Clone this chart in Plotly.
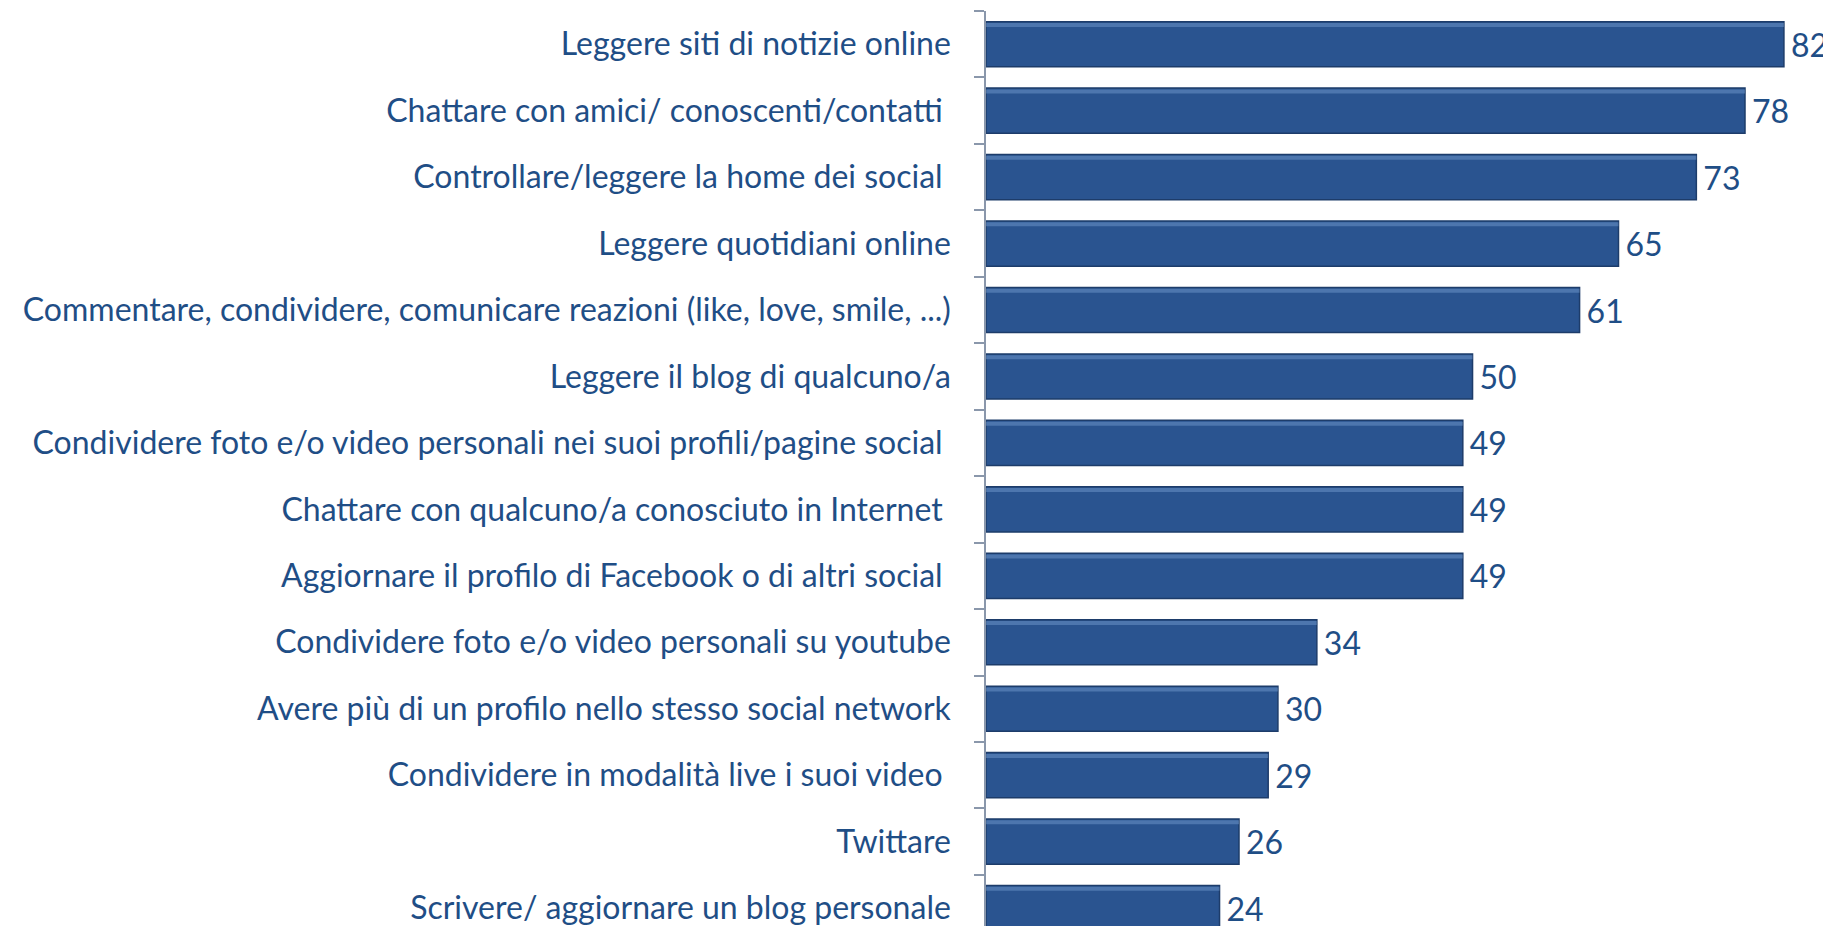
import plotly.graph_objects as go

categories = [
    "Leggere siti di notizie online",
    "Chattare con amici/ conoscenti/contatti\u00a0",
    "Controllare/leggere la home dei social\u00a0",
    "Leggere quotidiani online",
    "Commentare, condividere, comunicare reazioni (like, love, smile, ...)",
    "Leggere il blog di qualcuno/a",
    "Condividere foto e/o video personali nei suoi profili/pagine social\u00a0",
    "Chattare con qualcuno/a conosciuto in Internet\u00a0",
    "Aggiornare il profilo di Facebook o di altri social\u00a0",
    "Condividere foto e/o video personali su youtube",
    "Avere più di un profilo nello stesso social network",
    "Condividere in modalità live i suoi video\u00a0",
    "Twittare",
    "Scrivere/ aggiornare un blog personale",
]
values = [82, 78, 73, 65, 61, 50, 49, 49, 49, 34, 30, 29, 26, 24]

text_color = "#1f4e86"
font_family = "Lato, 'Open Sans', sans-serif"
fsize = 32

fig = go.Figure()
fig.add_trace(
    go.Bar(
        x=values,
        y=categories,
        orientation="h",
        marker=dict(color="#2a5490", line=dict(color="#1d3c6a", width=1.5)),
        text=["\u2009" + str(v) for v in values],
        textposition="outside",
        textfont=dict(color=text_color, size=fsize, family=font_family),
        cliponaxis=False,
        width=0.68,
        hoverinfo="skip",
    )
)
# subtle top highlight (bevel look)
fig.add_trace(
    go.Bar(
        x=values,
        y=categories,
        orientation="h",
        marker=dict(color="rgba(120,160,210,0.45)", line=dict(width=0)),
        width=0.06,
        offset=-0.32,
        hoverinfo="skip",
    )
)

fig.update_layout(
    width=1831,
    height=926,
    margin=dict(l=978, r=0, t=3, b=0),
    paper_bgcolor="white",
    plot_bgcolor="white",
    showlegend=False,
    barmode="overlay",
    font=dict(family=font_family, color=text_color, size=fsize),
)
fig.update_xaxes(
    range=[0, 87.66],
    visible=False,
    showgrid=False,
    zeroline=False,
)
fig.update_yaxes(
    range=[13.39, -0.5],
    showgrid=False,
    showline=True,
    linecolor="#8a97ab",
    linewidth=1.5,
    ticks="outside",
    tickson="boundaries",
    ticklen=10,
    tickcolor="#8a97ab",
    tickwidth=1.5,
    tickfont=dict(size=fsize, color=text_color, family=font_family),
    ticklabelstandoff=27,
)

fig.write_html("out.html")
